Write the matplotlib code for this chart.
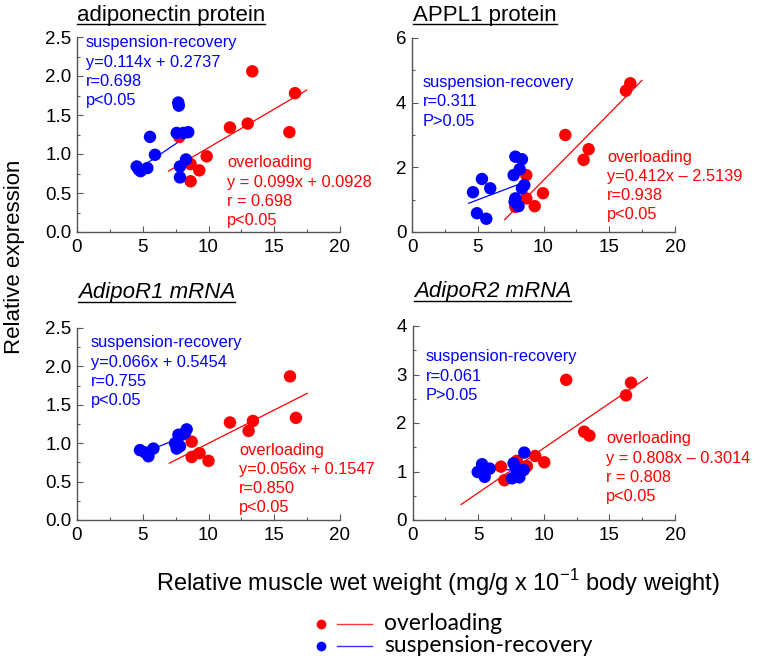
import matplotlib
matplotlib.use("Agg")
import matplotlib.pyplot as plt
from matplotlib.lines import Line2D

# ---------------- data ----------------
titles = ["adiponectin protein", "APPL1 protein", "AdipoR1 mRNA", "AdipoR2 mRNA"]

# panel 1: adiponectin protein
p1_sr_x = [4.54, 4.84, 4.70, 5.35, 5.55, 5.93, 7.70, 7.74, 7.58, 8.09, 8.46, 8.29, 7.83, 7.83]
p1_sr_y = [0.84, 0.78, 0.80, 0.82, 1.22, 0.99, 1.66, 1.62, 1.27, 1.27, 1.28, 0.93, 0.84, 0.70]
p1_ov_x = [7.78, 8.64, 8.64, 9.30, 9.86, 11.63, 12.98, 13.33, 16.15, 16.58]
p1_ov_y = [1.22, 0.87, 0.65, 0.79, 0.97, 1.34, 1.39, 2.06, 1.28, 1.78]
p1_ov_fit_x = [6.95, 17.47]
p1_ov_fit_y = [0.78, 1.82]
p1_sr_fit_x = [4.6, 8.2]
p1_sr_fit_y = [0.80, 1.21]

# panel 2: APPL1 protein
p2_sr_x = [4.64, 5.32, 5.95, 4.94, 5.65, 7.86, 8.36, 8.19, 7.73, 8.54, 8.36, 7.86, 7.80, 8.10]
p2_sr_y = [1.23, 1.64, 1.35, 0.58, 0.41, 2.33, 2.25, 1.94, 1.76, 1.45, 1.35, 1.04, 0.94, 0.80]
p2_ov_x = [7.86, 8.69, 8.69, 9.33, 9.96, 11.66, 13.05, 13.43, 16.27, 16.60]
p2_ov_y = [0.78, 1.76, 1.04, 0.80, 1.20, 3.00, 2.23, 2.56, 4.37, 4.60]
p2_ov_fit_x = [7.04, 17.49]
p2_ov_fit_y = [0.38, 4.69]
p2_sr_fit_x = [4.31, 8.29]
p2_sr_fit_y = [0.89, 1.50]

# panel 3: AdipoR1 mRNA
p3_sr_x = [4.79, 5.17, 5.43, 5.81, 7.58, 7.45, 7.71, 7.96, 8.34, 8.20, 7.83]
p3_sr_y = [0.91, 0.88, 0.83, 0.93, 0.93, 1.00, 1.11, 1.11, 1.18, 1.13, 0.96]
p3_ov_x = [8.72, 8.72, 9.32, 10.00, 11.63, 13.05, 13.38, 16.20, 16.65]
p3_ov_y = [1.02, 0.82, 0.87, 0.77, 1.27, 1.16, 1.29, 1.87, 1.33]
p3_ov_fit_x = [7.02, 17.51]
p3_ov_fit_y = [0.74, 1.65]
p3_sr_fit_x = [4.6, 7.9]
p3_sr_fit_y = [0.85, 1.07]

# panel 4: AdipoR2 mRNA
p4_sr_x = [4.97, 5.30, 5.88, 5.50, 7.70, 7.83, 8.52, 8.47, 8.14, 7.58, 7.95]
p4_sr_y = [0.99, 1.15, 1.06, 0.89, 1.17, 1.10, 1.39, 1.03, 0.88, 0.86, 0.99]
p4_ov_x = [6.74, 7.00, 7.95, 8.72, 9.35, 10.04, 11.71, 13.08, 13.48, 16.27, 16.65]
p4_ov_y = [1.10, 0.82, 1.22, 1.11, 1.32, 1.19, 2.89, 1.82, 1.74, 2.57, 2.83]
p4_ov_fit_x = [3.7, 17.9]
p4_ov_fit_y = [0.32, 2.94]
p4_sr_fit_x = [5.0, 8.2]
p4_sr_fit_y = [1.03, 1.04]

ylims = [2.5, 6, 2.5, 4]
ymajor = [0.5, 2, 0.5, 1]
ytick_fmt = ["{:.1f}", "{:.0f}", "{:.1f}", "{:.0f}"]
x_ticks = [0, 5, 10, 15, 20]

sr_texts = [
    ["suspension-recovery", "y=0.114x + 0.2737", "r=0.698", "p<0.05"],
    ["suspension-recovery", "r=0.311", "P>0.05"],
    ["suspension-recovery", "y=0.066x + 0.5454", "r=0.755", "p<0.05"],
    ["suspension-recovery", "r=0.061", "P>0.05"],
]
ov_texts = [
    ["overloading", "y = 0.099x + 0.0928", "r = 0.698", "p<0.05"],
    ["overloading", "y=0.412x \u2013 2.5139", "r=0.938", "p<0.05"],
    ["overloading", "y=0.056x + 0.1547", "r=0.850", "p<0.05"],
    ["overloading", "y = 0.808x \u2013 0.3014", "r = 0.808", "p<0.05"],
]
legend_labels = ["overloading", "suspension-recovery"]
xlabel = "Relative muscle wet weight (mg/g x 10$^{-1}$ body weight)"
ylabel = "Relative expression"

# ---------------- styling / layout ----------------
W, H = 757, 664
RED = "#ff0000"
BLUE = "#0000ff"
plt.rcParams["font.family"] = ["Liberation Sans", "DejaVu Sans"]
plt.rcParams["mathtext.fontset"] = "custom"
plt.rcParams["mathtext.rm"] = "Liberation Sans"

fig = plt.figure(figsize=(W / 100, H / 100), dpi=100)

def fx(px):
    return px / W

def fy(py):
    return 1 - py / H

# axes pixel boxes: left, top, right, bottom
boxes = [(77, 37, 340, 232), (412, 38, 675, 232), (77, 328, 340, 520), (412.5, 326, 675, 520)]
title_pos = [(77, 15), (413, 15), (78, 293), (414, 292)]
sr_pos = [(86, 43), (423, 83), (91, 343), (426, 357)]
ov_pos = [(227, 163), (607, 157), (239, 450), (606, 439)]

panels = [
    (p1_sr_x, p1_sr_y, p1_ov_x, p1_ov_y, p1_sr_fit_x, p1_sr_fit_y, p1_ov_fit_x, p1_ov_fit_y),
    (p2_sr_x, p2_sr_y, p2_ov_x, p2_ov_y, p2_sr_fit_x, p2_sr_fit_y, p2_ov_fit_x, p2_ov_fit_y),
    (p3_sr_x, p3_sr_y, p3_ov_x, p3_ov_y, p3_sr_fit_x, p3_sr_fit_y, p3_ov_fit_x, p3_ov_fit_y),
    (p4_sr_x, p4_sr_y, p4_ov_x, p4_ov_y, p4_sr_fit_x, p4_sr_fit_y, p4_ov_fit_x, p4_ov_fit_y),
]

title_artists = []
for i, (box, pdata) in enumerate(zip(boxes, panels)):
    l, t, r, b = box
    ax = fig.add_axes([fx(l), fy(b), (r - l) / W, (b - t) / H])
    sx, sy, ox, oy, sfx, sfy, ofx, ofy = pdata
    ax.plot(ofx, ofy, color=RED, lw=0.9, zorder=2)
    ax.plot(sfx, sfy, color=BLUE, lw=0.9, zorder=2)
    ax.scatter(ox, oy, s=80, color=RED, edgecolors="none", zorder=3)
    ax.scatter(sx, sy, s=80, color=BLUE, edgecolors="none", zorder=4)
    ax.set_xlim(0, 20)
    ax.set_ylim(0, ylims[i])
    ax.set_xticks(x_ticks)
    ax.set_xticks([2.5, 7.5, 12.5, 17.5], minor=True)
    step = ymajor[i]
    n = int(round(ylims[i] / step))
    yt = [k * step for k in range(n + 1)]
    ax.set_yticks(yt)
    ax.set_yticklabels([ytick_fmt[i].format(v) for v in yt])
    ax.set_yticks([k * step + step / 2 for k in range(n)], minor=True)
    for s in ["top", "right"]:
        ax.spines[s].set_visible(False)
    for s in ["left", "bottom"]:
        ax.spines[s].set_color("#555555")
        ax.spines[s].set_linewidth(1.0)
    ax.tick_params(which="both", direction="in", color="#555555", width=0.8)
    ax.tick_params(which="major", length=4, labelsize=13.5)
    ax.tick_params(which="minor", length=2.5)
    ax.tick_params(axis="x", which="major", pad=5)
    ax.tick_params(axis="y", which="major", pad=4)
    ax.patch.set_alpha(0)

    tx, ty = title_pos[i]
    style = "italic" if i >= 2 else "normal"
    tt = fig.text(fx(tx), fy(ty), titles[i], fontsize=16, style=style, ha="left", va="center")
    title_artists.append(tt)

    x0, y0 = sr_pos[i]
    for k, line in enumerate(sr_texts[i]):
        fig.text(fx(x0), fy(y0 + 19 * k), line, color=BLUE, fontsize=11.8, ha="left", va="center")
    x0, y0 = ov_pos[i]
    for k, line in enumerate(ov_texts[i]):
        fig.text(fx(x0), fy(y0 + 19.2 * k), line, color=RED, fontsize=11.8, ha="left", va="center")

fig.text(fx(438), fy(583), xlabel, fontsize=17, ha="center", va="center")
fig.text(fx(15), fy(257), ylabel, fontsize=16, ha="center", va="center", rotation=90)

# legend (manual)
leg_rows = [(624, RED), (646, BLUE)]
for (ly, col), lab in zip(leg_rows, legend_labels):
    fig.add_artist(Line2D([fx(321)], [fy(ly)], marker="o", markersize=7, color=col,
                          markeredgewidth=0, transform=fig.transFigure))
    fig.add_artist(Line2D([fx(337), fx(372)], [fy(ly), fy(ly)], color=col, lw=1.0,
                          alpha=0.8, transform=fig.transFigure))
    fig.text(fx(384), fy(ly), lab, fontsize=16.5, family=["Lato", "DejaVu Sans"],
             ha="left", va="center")

# underline titles
fig.canvas.draw()
renderer = fig.canvas.get_renderer()
for tt in title_artists:
    bb = tt.get_window_extent(renderer)
    yline = bb.y0 + 1.5
    fig.add_artist(Line2D([bb.x0 / W, bb.x1 / W], [yline / H, yline / H], color="black",
                          lw=1.0, transform=fig.transFigure))

fig.savefig("out.png", dpi=100)
